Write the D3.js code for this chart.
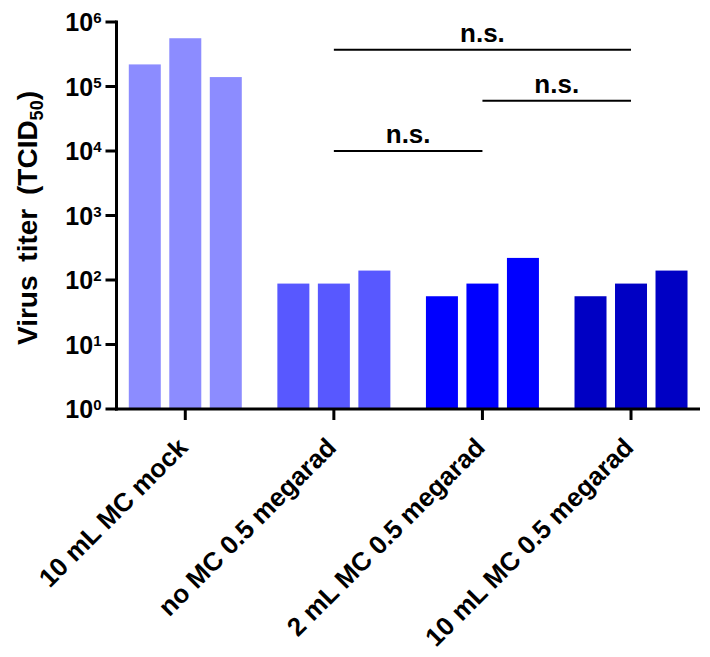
<!DOCTYPE html>
<html>
<head>
<meta charset="utf-8">
<script src="https://cdn.jsdelivr.net/npm/d3@7"></script>
<style>
  html, body { margin: 0; padding: 0; background: #fff; }
  svg { display: block; font-family: "Liberation Sans", Arial, Helvetica, sans-serif; font-weight: bold; }
</style>
</head>
<body>
<svg id="chart" width="710" height="657"></svg>
<script>
// ---- data ----
const categories = ["10 mL MC mock", "no MC 0.5 megarad", "2 mL MC 0.5 megarad", "10 mL MC 0.5 megarad"];
const replicates = [0, 1, 2];
const titers = [
  [220000, 560000, 140000],
  [88, 88, 140],
  [56, 88, 220],
  [56, 88, 140]
];
const groupColors = ["#8c8cff", "#5858ff", "#0000ff", "#0000c4"];
const yTickExponents = [0, 1, 2, 3, 4, 5, 6];
const yTitle = "Virus titer";
// significance comparisons: [from group, to group, bracket height (titer units), label]
const comparisons = [
  { from: 1, to: 3, level: 370000, label: "n.s." },
  { from: 2, to: 3, level: 60000, label: "n.s." },
  { from: 1, to: 2, level: 10000, label: "n.s." }
];

// ---- layout ----
const svg = d3.select("#chart");
const axisX = 116.5, axisY = 409, axisRight = 700;

const y = d3.scaleLog().domain([1, 1e6]).range([409, 22]);
const x0 = d3.scaleBand().domain(categories).range([111, 705.3]);
const x1 = d3.scaleBand().domain(replicates).range([-56.5, 56.5]).paddingInner(0.21);
const cx = c => x0(c) + x0.bandwidth() / 2;

// bars
const groups = svg.append("g").selectAll("g")
  .data(categories)
  .join("g")
  .attr("transform", c => `translate(${cx(c)},0)`);

groups.selectAll("rect")
  .data((c, i) => titers[i].map((v, j) => ({ v, j, i })))
  .join("rect")
  .attr("x", d => x1(d.j))
  .attr("width", x1.bandwidth())
  .attr("y", d => y(d.v))
  .attr("height", d => y(1) - y(d.v))
  .attr("fill", d => groupColors[d.i]);

// y axis
const yAxisG = svg.append("g").attr("transform", `translate(${axisX},0)`);
yAxisG.append("line")
  .attr("x1", 0).attr("x2", 0)
  .attr("y1", y(1e6) - 1.5).attr("y2", axisY + 1.5)
  .attr("stroke", "#000").attr("stroke-width", 3);
const yt = yAxisG.selectAll("g.tick")
  .data(yTickExponents)
  .join("g")
  .attr("class", "tick")
  .attr("transform", e => `translate(0,${y(Math.pow(10, e))})`);
yt.append("line")
  .attr("x1", -11).attr("x2", 0)
  .attr("stroke", "#000").attr("stroke-width", 3);
const ytl = yt.append("text")
  .attr("x", -15)
  .attr("y", 9)
  .attr("text-anchor", "end")
  .attr("font-size", 25)
  .attr("fill", "#000");
ytl.append("tspan").text("10");
ytl.append("tspan").attr("font-size", 15).attr("dy", -8).text(e => e);

// x axis
svg.append("line")
  .attr("x1", axisX - 1.5).attr("x2", axisRight)
  .attr("y1", axisY).attr("y2", axisY)
  .attr("stroke", "#000").attr("stroke-width", 3);
const xt = svg.append("g").selectAll("g")
  .data(categories)
  .join("g")
  .attr("transform", c => `translate(${cx(c)},${axisY})`);
xt.append("line")
  .attr("y1", 0).attr("y2", 11)
  .attr("stroke", "#000").attr("stroke-width", 3);
xt.append("text")
  .attr("transform", "translate(4,40) rotate(-45)")
  .attr("text-anchor", "end")
  .attr("font-size", 26)
  .attr("fill", "#000")
  .text(c => c);

// y title
const title = svg.append("text")
  .attr("transform", "translate(37,218) rotate(-90)")
  .attr("text-anchor", "middle")
  .attr("font-size", 28)
  .attr("word-spacing", 6)
  .attr("fill", "#000");
title.append("tspan").text(yTitle + " (TCID");
title.append("tspan").attr("font-size", 18).attr("dy", 6).text("50");
title.append("tspan").attr("dy", -6).text(")");

// significance brackets
const sig = svg.append("g").selectAll("g")
  .data(comparisons)
  .join("g");
sig.append("line")
  .attr("x1", d => cx(categories[d.from]))
  .attr("x2", d => cx(categories[d.to]))
  .attr("y1", d => y(d.level))
  .attr("y2", d => y(d.level))
  .attr("stroke", "#000").attr("stroke-width", 2);
sig.append("text")
  .attr("x", d => (cx(categories[d.from]) + cx(categories[d.to])) / 2)
  .attr("y", d => y(d.level) - 8)
  .attr("text-anchor", "middle")
  .attr("font-size", 26)
  .attr("fill", "#000")
  .text(d => d.label);
</script>
</body>
</html>
